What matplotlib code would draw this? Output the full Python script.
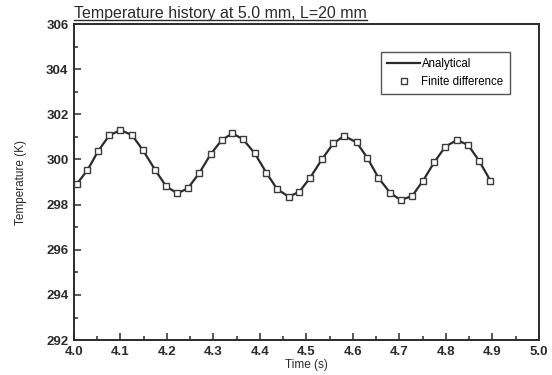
import matplotlib
matplotlib.use("Agg")
import matplotlib.pyplot as plt
from matplotlib.ticker import MultipleLocator
from matplotlib.lines import Line2D

plt.rcParams['font.family'] = ['Liberation Sans', 'DejaVu Sans']

# values
time_s = [4.006, 4.029, 4.052, 4.076, 4.100, 4.125, 4.148, 4.175, 4.198, 4.222,
          4.245, 4.270, 4.294, 4.318, 4.341, 4.364, 4.389, 4.414, 4.437, 4.462,
          4.485, 4.508, 4.534, 4.558, 4.581, 4.608, 4.631, 4.655, 4.680, 4.703,
          4.728, 4.751, 4.775, 4.799, 4.824, 4.848, 4.872, 4.896]
temp_fd = [298.91, 299.53, 300.37, 301.07, 301.30, 301.08, 300.42, 299.53, 298.82, 298.50,
           298.72, 299.41, 300.23, 300.86, 301.16, 300.89, 300.27, 299.41, 298.69, 298.35,
           298.57, 299.19, 300.02, 300.71, 301.04, 300.76, 300.08, 299.19, 298.53, 298.20,
           298.39, 299.06, 299.87, 300.57, 300.86, 300.64, 299.93, 299.06]
time_an = [4.000] + time_s
temp_an = [298.80] + temp_fd

ink = '#2b2b2b'

fig = plt.figure(figsize=(5.52, 3.75), dpi=100)
ax = fig.add_axes([0.134, 0.093, 0.842, 0.843])

ax.plot(time_an, temp_an, color=ink, lw=1.6, label='Analytical', zorder=2)
ax.plot(time_s, temp_fd, ls='none', marker='s', ms=4.6, mfc='white', mec='#3a3a3a',
        mew=1.0, label='Finite difference', zorder=3)

ax.set_xlim(4.0, 5.0)
ax.set_ylim(292, 306)
ax.xaxis.set_major_locator(MultipleLocator(0.1))
ax.xaxis.set_minor_locator(MultipleLocator(0.05))
ax.yaxis.set_major_locator(MultipleLocator(2))
ax.yaxis.set_minor_locator(MultipleLocator(1))
ax.xaxis.set_major_formatter(plt.FormatStrFormatter('%.1f'))
ax.tick_params(which='both', direction='in', top=False, right=False, colors=ink,
               labelsize=9.5, width=1.1)
ax.tick_params(which='major', length=5, pad=4)
ax.tick_params(which='minor', length=3)
for lab in ax.get_xticklabels() + ax.get_yticklabels():
    lab.set_fontweight('bold')
for sp in ax.spines.values():
    sp.set_color(ink)
    sp.set_linewidth(1.4)

ax.set_xlabel('Time (s)', fontsize=8.5, color=ink, labelpad=1)
ax.set_ylabel('Temperature (K)', fontsize=8.5, color=ink, labelpad=14)

leg = ax.legend(loc='upper right', bbox_to_anchor=(0.938, 0.911), borderaxespad=0,
                fontsize=8.3, frameon=True, fancybox=False, handlelength=2.9,
                handletextpad=0.1, labelspacing=0.45, borderpad=0.55)
leg.get_frame().set_edgecolor(ink)
leg.get_frame().set_linewidth(1.0)

title = fig.text(0.134, 0.945, 'Temperature history at 5.0 mm, L=20 mm',
                 fontsize=11.5, color=ink, ha='left', va='bottom')
fig.canvas.draw()
bb = title.get_window_extent().transformed(fig.transFigure.inverted())
fig.add_artist(Line2D([bb.x0, bb.x1], [bb.y0 + 0.002, bb.y0 + 0.002],
                      color=ink, lw=1.0, transform=fig.transFigure))

fig.savefig('out.png', dpi=100)
